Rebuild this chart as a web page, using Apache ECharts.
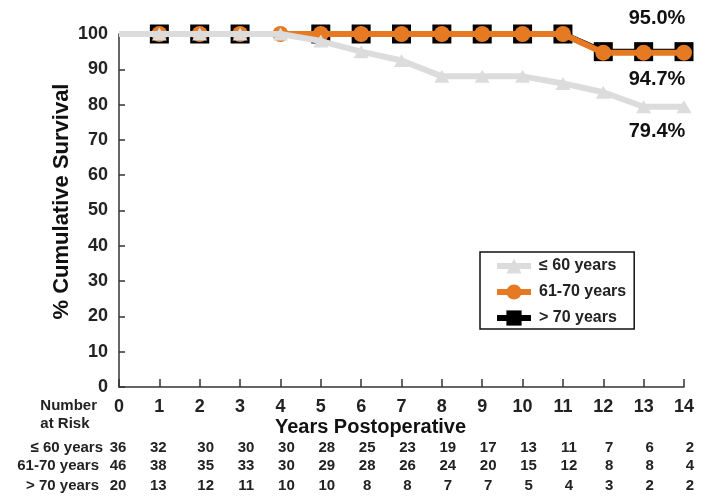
<!DOCTYPE html>
<html>
<head>
<meta charset="utf-8">
<script src="https://cdn.jsdelivr.net/npm/echarts@6/dist/echarts.min.js"></script>
<style>
  html, body { margin: 0; padding: 0; background: #fff; }
  #chart { width: 717px; height: 500px; }
</style>
</head>
<body>
<div id="chart"></div>
<script>
// Kaplan-Meier style survival by age group
const years = [0, 1, 2, 3, 4, 5, 6, 7, 8, 9, 10, 11, 12, 13, 14];
const seriesNames = ['\u2264 60 years', '61-70 years', '> 70 years'];

const survLe60 = [100, 100, 100, 100, 100, 98, 95, 92.5, 88, 88, 88, 86, 83.5, 79.4, 79.4];
const surv61to70 = [100, 100, 100, 100, 100, 100, 100, 100, 100, 100, 100, 100, 94.7, 94.7, 94.7];
const survGt70 = [100, 100, 100, 100, 100, 100, 100, 100, 100, 100, 100, 100, 95.0, 95.0, 95.0];

// years without a plotted marker, per group
const noMarkLe60 = [0];
const noMark61to70 = [0];
const noMarkGt70 = [0, 4];

// number at risk at each year
const riskLe60 = [36, 32, 30, 30, 30, 28, 25, 23, 19, 17, 13, 11, 7, 6, 2];
const risk61to70 = [46, 38, 35, 33, 30, 29, 28, 26, 24, 20, 15, 12, 8, 8, 4];
const riskGt70 = [20, 13, 12, 11, 10, 10, 8, 8, 7, 7, 5, 4, 3, 2, 2];

const yTicks = [0, 10, 20, 30, 40, 50, 60, 70, 80, 90, 100];

const FONT = '"Liberation Sans", Arial, Helvetica, sans-serif';
const INK = '#222';
const C_LE60 = '#DCDCDC';
const C_6170 = '#E57A22';
const C_GT70 = '#000000';

function buildData(vals, noMark, endLabel) {
  return years.map((x, i) => {
    const item = { value: [x, vals[i]] };
    if (noMark.indexOf(i) >= 0) item.symbol = 'none';
    if (endLabel && i === years.length - 1) item.label = endLabel;
    return item;
  });
}

function endLabel(text, position, offset) {
  return {
    show: true,
    formatter: text,
    position: position,
    offset: offset,
    fontFamily: FONT,
    fontWeight: 'bold',
    fontSize: 20,
    color: '#111'
  };
}

function riskAxis(values, name, offset, gap) {
  return {
    type: 'value',
    gridIndex: 0,
    position: 'bottom',
    offset: offset,
    min: 0,
    max: 14,
    interval: 1,
    name: name,
    nameLocation: 'start',
    nameGap: gap,
    nameMoveOverlap: false,
    nameTextStyle: {
      fontFamily: FONT, fontWeight: 'bold', fontSize: 15, color: INK,
      align: 'right', verticalAlign: 'middle'
    },
    axisLine: { show: false },
    axisTick: { show: false },
    splitLine: { show: false },
    axisLabel: {
      margin: 0,
      verticalAlign: 'middle',
      formatter: (v) => (v <= 1 ? '{a|' : '{b|') + values[v] + '}',
      rich: {
        a: { fontFamily: FONT, fontWeight: 'bold', fontSize: 15, color: INK, padding: [0, 2, 0, 0] },
        b: { fontFamily: FONT, fontWeight: 'bold', fontSize: 15, color: INK, padding: [0, 0, 0, 12] }
      }
    }
  };
}

const chart = echarts.init(document.getElementById('chart'), null, { renderer: 'canvas' });

chart.setOption({
  backgroundColor: '#fff',
  animation: false,
  grid: { left: 119, right: 33, top: 34, bottom: 113, containLabel: false },
  xAxis: [
    {
      type: 'value',
      min: 0,
      max: 14,
      interval: 1,
      name: 'Years Postoperative',
      nameLocation: 'middle',
      nameGap: 30,
      nameMoveOverlap: false,
      nameTextStyle: {
        fontFamily: FONT, fontWeight: 'bold', fontSize: 20, color: '#111',
        padding: [0, 62, 0, 0]
      },
      axisLine: { show: true, lineStyle: { color: '#333', width: 1.5 } },
      axisTick: { show: true, inside: true, length: 8, lineStyle: { color: '#333', width: 1.5 } },
      splitLine: { show: false },
      axisLabel: {
        margin: 11,
        fontFamily: FONT, fontWeight: 'bold', fontSize: 18, color: INK,
        formatter: (v) => String(years[v])
      }
    },
    riskAxis(riskLe60, '\u2264 60 years', 61, 16),
    riskAxis(risk61to70, '61-70 years', 79, 20),
    riskAxis(riskGt70, '> 70 years', 99, 20)
  ],
  yAxis: {
    type: 'value',
    min: 0,
    max: 100,
    interval: 10,
    name: '% Cumulative Survival',
    nameLocation: 'middle',
    nameRotate: 90,
    nameGap: 46,
    nameMoveOverlap: false,
    nameTextStyle: {
      fontFamily: FONT, fontWeight: 'bold', fontSize: 22, color: '#111',
      padding: [0, 0, 0, 18]
    },
    axisLine: { show: true, lineStyle: { color: '#333', width: 1.5 } },
    axisTick: { show: true, inside: true, length: 6, lineStyle: { color: '#333', width: 1.5 } },
    splitLine: { show: false },
    axisLabel: {
      margin: 11,
      fontFamily: FONT, fontWeight: 'bold', fontSize: 18, color: INK,
      formatter: (v) => (yTicks.indexOf(v) >= 0 ? String(v) : '')
    }
  },
  legend: {
    orient: 'vertical',
    left: 480,
    top: 252,
    padding: [6, 8, 3, 14],
    itemGap: 10,
    itemWidth: 34,
    itemHeight: 19,
    borderColor: '#111',
    borderWidth: 1.5,
    backgroundColor: '#fff',
    data: seriesNames,
    lineStyle: { width: 6 },
    textStyle: {
      fontFamily: FONT, fontWeight: 'bold', fontSize: 16, color: INK,
      padding: [0, 0, 0, 3]
    }
  },
  graphic: [
    {
      type: 'text',
      right: 717 - 97,
      top: 397,
      style: {
        text: 'Number\nat Risk',
        align: 'center',
        lineHeight: 18,
        fontFamily: FONT, fontWeight: 'bold', fontSize: 15, fill: INK
      }
    }
  ],
  series: [
    {
      name: seriesNames[2],
      type: 'line',
      z: 2,
      clip: false,
      symbol: 'rect',
      symbolSize: 19,
      lineStyle: { color: C_GT70, width: 6 },
      itemStyle: { color: C_GT70 },
      data: buildData(survGt70, noMarkGt70, endLabel('95.0%', 'top', [-27, -9]))
    },
    {
      name: seriesNames[1],
      type: 'line',
      z: 3,
      clip: false,
      symbol: 'circle',
      symbolSize: 16,
      lineStyle: { color: C_6170, width: 6 },
      itemStyle: { color: C_6170 },
      data: buildData(surv61to70, noMark61to70, endLabel('94.7%', 'bottom', [-27, 4]))
    },
    {
      name: seriesNames[0],
      type: 'line',
      z: 4,
      clip: false,
      symbol: 'triangle',
      symbolSize: [15, 13],
      lineStyle: { color: C_LE60, width: 6 },
      itemStyle: { color: C_LE60 },
      data: buildData(survLe60, noMarkLe60, endLabel('79.4%', 'bottom', [-27, 3]))
    }
  ]
});
</script>
</body>
</html>
